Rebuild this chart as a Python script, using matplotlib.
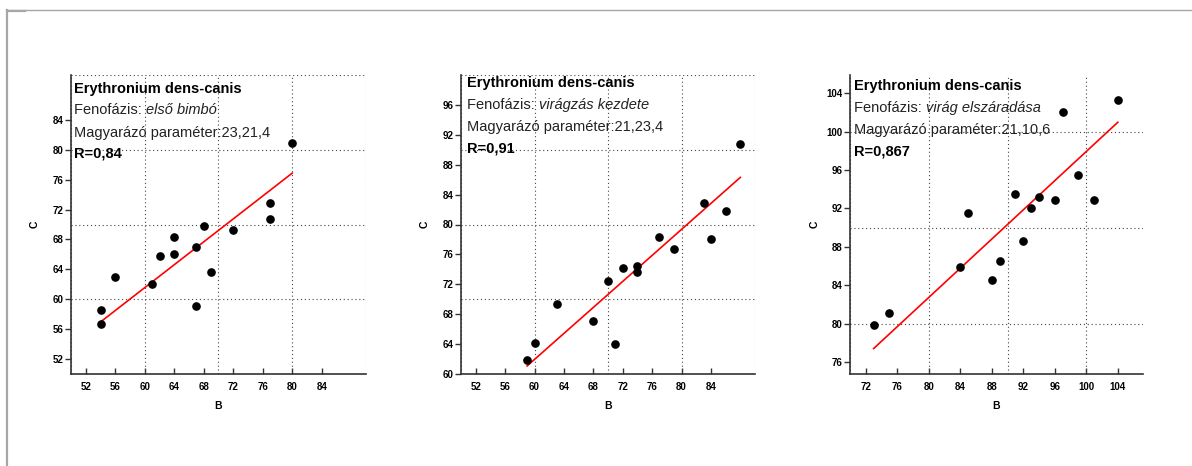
import numpy as np
import matplotlib
matplotlib.use('Agg')
from matplotlib import pyplot as plt
from matplotlib.ticker import MultipleLocator
from matplotlib.lines import Line2D

plt.rcParams['font.family'] = ['Liberation Sans', 'DejaVu Sans']

# Adatok
fajnev = 'Erythronium dens-canis'
fenofazis = ['első bimbó', 'virágzás kezdete', 'virág elszáradása']
parameter = ['23,21,4', '21,23,4', '21,10,6']
r_ertek = ['0,84', '0,91', '0,867']

b1 = [54, 54, 56, 61, 62, 64, 64, 67, 67, 68, 69, 72, 77, 77, 80]
c1 = [58.5, 56.7, 63.0, 62.0, 65.8, 68.3, 66.1, 67.0, 59.1, 69.8, 63.7, 69.2, 72.9, 70.8, 80.9]

b2 = [59, 60, 63, 68, 70, 71, 72, 74, 74, 77, 79, 83, 84, 86, 88]
c2 = [61.9, 64.2, 69.4, 67.1, 72.5, 64.0, 74.2, 74.5, 73.7, 78.3, 76.7, 82.9, 78.1, 81.8, 90.8]

b3 = [73, 75, 84, 85, 88, 89, 91, 92, 93, 94, 96, 97, 99, 101, 104]
c3 = [79.9, 81.1, 85.9, 91.5, 84.5, 86.5, 93.5, 88.6, 92.0, 93.2, 92.9, 102.0, 95.5, 92.9, 103.3]

xlimits = [(50, 90), (50, 90), (70, 107.2)]
ylimits = [(50, 90), (60, 100), (74.75, 105.9)]
xtick_list = [np.arange(52, 85, 4), np.arange(52, 85, 4), np.arange(72, 105, 4)]
ytick_list = [np.arange(52, 85, 4), np.arange(60, 97, 4), np.arange(76, 105, 4)]

adatok = [(b1, c1), (b2, c2), (b3, c3)]

fig = plt.figure(figsize=(11.92, 4.66), dpi=100)

# Tengelyek helye (pixelben mérve a képről)
helyek = [(71, 295), (461, 294), (850, 293)]
szoveg_x = [0.01, 0.02, 0.014]
szoveg_y = [[0.953, 0.883, 0.806, 0.736],
            [0.973, 0.900, 0.826, 0.753],
            [0.963, 0.890, 0.817, 0.743]]
c_label_x = [35, 425, 815]

for i in range(3):
    bal, szel = helyek[i]
    ax = fig.add_axes([bal / 1192, 1 - 374 / 466, szel / 1192, 299 / 466])
    b = np.array(adatok[i][0], dtype=float)
    c = np.array(adatok[i][1], dtype=float)

    # Egyenes (redukált fő tengely: meredekség = sd(C)/sd(B))
    m = np.std(c) / np.std(b)
    n = c.mean() - m * b.mean()
    xx = np.array([b.min(), b.max()])
    ax.plot(xx, m * xx + n, color='red', lw=1.2, zorder=3)
    ax.plot(b, c, 'o', color='black', ms=5.2, zorder=4)

    ax.set_xlim(xlimits[i])
    ax.set_ylim(ylimits[i])
    ax.set_xticks(xtick_list[i])
    ax.set_yticks(ytick_list[i])
    ax.xaxis.set_minor_locator(MultipleLocator(10))
    ax.yaxis.set_minor_locator(MultipleLocator(10))
    ax.xaxis.remove_overlapping_locs = False
    ax.yaxis.remove_overlapping_locs = False
    ax.grid(which='minor', color='#444444', lw=0.8, linestyle=(0, (1, 2.5)))
    ax.tick_params(which='minor', length=0)
    ax.tick_params(axis='x', direction='in', length=4, width=1, pad=6, labelsize=7, color='#333333')
    ax.tick_params(axis='y', direction='out', length=4, width=1, pad=1.5, labelsize=7, color='#333333')
    for lab in ax.get_xticklabels() + ax.get_yticklabels():
        lab.set_fontweight('bold')

    for s in ['top', 'right']:
        ax.spines[s].set_visible(False)
    for s in ['left', 'bottom']:
        ax.spines[s].set_color('#333333')
        ax.spines[s].set_linewidth(1.2)

    ax.set_xlabel('B', fontsize=7.5, fontweight='bold', labelpad=6)
    fig.text(c_label_x[i] / 1192, 1 - 224 / 466, 'C', fontsize=7.5, fontweight='bold',
             rotation=90, ha='center', va='center')

    # Feliratok
    sx = szoveg_x[i]
    sy = szoveg_y[i]
    ax.text(sx, sy[0], fajnev, transform=ax.transAxes, fontsize=10.5,
            fontweight='bold', va='center', ha='left', zorder=5)
    t = ax.text(sx, sy[1], 'Fenofázis: ', transform=ax.transAxes, fontsize=10.5,
                color='#222222', va='center', ha='left', zorder=5)
    ax.annotate(fenofazis[i], xy=(1, 0), xycoords=t, va='bottom', ha='left',
                fontsize=10.5, style='italic', color='#222222', zorder=5)
    ax.text(sx, sy[2], 'Magyarázó paraméter:' + parameter[i], transform=ax.transAxes,
            fontsize=10.5, color='#222222', va='center', ha='left', zorder=5)
    ax.text(sx, sy[3], 'R=' + r_ertek[i], transform=ax.transAxes, fontsize=10.5,
            fontweight='bold', va='center', ha='left', zorder=5)

# Keret a kép szélén
fig.add_artist(Line2D([7 / 1192, 1], [1 - 9.5 / 466, 1 - 9.5 / 466], color='#a6a6a6', lw=1))
fig.add_artist(Line2D([7 / 1192, 7 / 1192], [0, 1 - 9.5 / 466], color='#a6a6a6', lw=1.6))
fig.add_artist(Line2D([7 / 1192, 25 / 1192], [1 - 10.5 / 466, 1 - 10.5 / 466], color='#a6a6a6', lw=1.6))

fig.savefig('out.png', dpi=100)
